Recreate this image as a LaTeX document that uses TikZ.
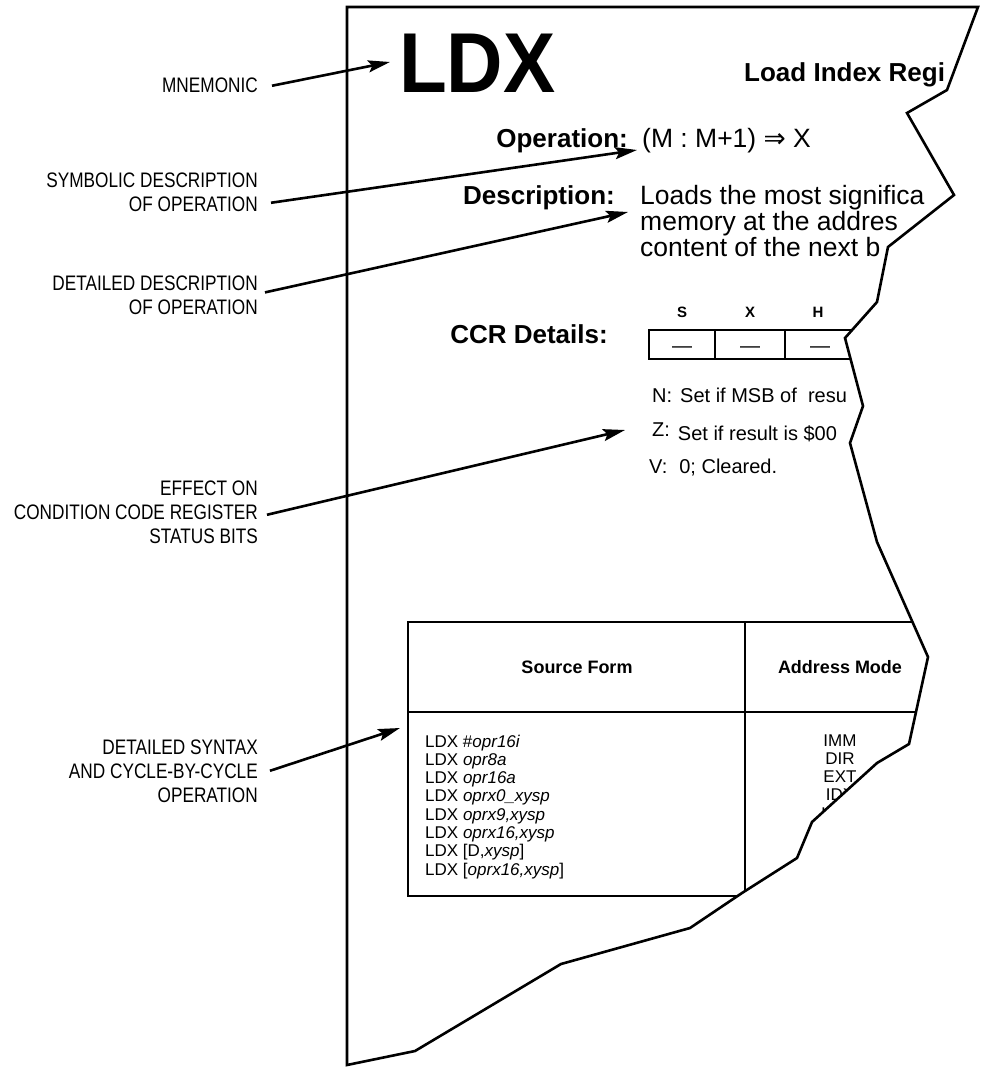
\documentclass[tikz,border=0pt]{standalone}
\usepackage{fontspec}
\setmainfont{Liberation Sans}
\newfontfamily\narrowfont[FakeStretch=0.82]{Liberation Sans}
\newfontfamily\arrowfont{DejaVu Sans}
\usetikzlibrary{arrows.meta}

\newcommand{\tornedge}{(347,7) -- (978,7) -- (947,90) -- (907,113) -- (954,195) -- (888,247) -- (877,302) -- (845,338) -- (863,406) -- (850,443) -- (877,542) -- (928,657) -- (909,744) -- (877,763) -- (812,822) -- (797,858) -- (742,893) -- (690,928) -- (561,964) -- (415,1051) -- (347,1065) -- cycle}

\begin{document}
\begin{tikzpicture}[x=1pt, y=-1pt,
    callout/.style={line width=2.6pt, -{Stealth[length=22pt,width=12pt,inset=4pt]}},
    lbl/.style={anchor=base east, inner sep=0pt, font=\narrowfont\fontsize{21}{24}\selectfont},
    head/.style={inner sep=0pt, font=\bfseries\fontsize{26}{28}\selectfont},
    body/.style={inner sep=0pt, anchor=base west, font=\fontsize{26.5}{26}\selectfont},
    flag/.style={inner sep=0pt, anchor=base west, font=\fontsize{20}{20}\selectfont},
    cell/.style={inner sep=0pt, font=\fontsize{17}{18}\selectfont},
    colhead/.style={inner sep=0pt, anchor=base, font=\bfseries\fontsize{18}{20}\selectfont},
    bit/.style={inner sep=0pt, anchor=base, font=\bfseries\fontsize{15}{16}\selectfont},
    tbl/.style={line width=1.6pt},
  ]
  \useasboundingbox (0,0) rectangle (980,1067);

  % the torn page
  \begin{scope}
    \clip \tornedge;
    \node[inner sep=0pt, anchor=base west, font=\bfseries\fontsize{85}{85}\selectfont] (ldx) at (399,93) {\scalebox{0.92}[1]{LDX}};
    \node[head, anchor=base west] (title) at (744,82) {Load Index Regi};
    \node[head, anchor=base east] (oplbl) at (628,148) {Operation:};
    \node[body] (opval) at (642,148) {(M : M+1) {\arrowfont ⇒} X};
    \node[head, anchor=base east] (desclbl) at (615,205) {Description:};
    \foreach \t [count=\i] in {Loads the most significa, memory at the addres, content of the next b}
      \node[body] (desc\i) at (640,{205+25.5*(\i-1)}) {\t};
    \node[head, anchor=base east] (ccrlbl) at (608,343) {CCR Details:};
    \foreach \b/\cx [count=\i] in {S/682, X/750, H/818}
      \node[bit] (bit\i) at (\cx,317) {\b};
    \draw[line width=2.6pt] (649,330) rectangle (855,359);
    \draw[line width=2.6pt] (715,330) -- (715,359) (785,330) -- (785,359);
    \foreach \cx [count=\i] in {682,750,820}
      \node[inner sep=0pt, anchor=base, font=\fontsize{20}{20}\selectfont] (dash\i) at (\cx,352) {—};
    \node[flag] (flagn) at (652,402) {N:\hspace{8pt}Set if MSB of\ \ resu};
    \node[flag] (flagz) at (652,440) {\raisebox{4pt}{Z:}\hspace{8pt}Set if result is \$00};
    \node[flag] (flagv) at (649,473) {V:\hspace{12pt}0; Cleared.};

    % instruction table
    \draw[tbl] (408,622) rectangle (745,896);
    \draw[tbl] (745,622) -- (970,622) (408,712) -- (970,712) (745,896) -- (970,896);
    \node[colhead] (srchead) at (577,673) {Source Form};
    \node[colhead] (modehead) at (840,673) {Address Mode};
    \foreach \t [count=\i] in {{LDX \#\textit{opr16i}}, {LDX \textit{opr8a}}, {LDX \textit{opr16a}}, {LDX \textit{oprx0\_xysp}}, {LDX \textit{oprx9,xysp}}, {LDX \textit{oprx16,xysp}}, {LDX [D,\textit{xysp}]}, {LDX [\textit{oprx16,xysp}]}}
      \node[cell, anchor=base west] (src\i) at (425,{747+18.3*(\i-1)}) {\t};
    \foreach \t [count=\i] in {IMM, DIR, EXT, IDX, IDX1}
      \node[cell, anchor=base] (mode\i) at (840,{746+18.3*(\i-1)}) {\t};
  \end{scope}
  \draw[line width=2.6pt, line join=miter] \tornedge;

  % callout labels
  \node[lbl] (mnem) at (258,93) {MNEMONIC};
  \foreach \t [count=\i] in {SYMBOLIC DESCRIPTION, OF OPERATION}
    \node[lbl] (sym\i) at (258,{188+24*(\i-1)}) {\t};
  \foreach \t [count=\i] in {DETAILED DESCRIPTION, OF OPERATION}
    \node[lbl] (det\i) at (258,{290+24*(\i-1)}) {\t};
  \foreach \t [count=\i] in {EFFECT ON\hspace{5pt}, CONDITION CODE REGISTER, STATUS BITS}
    \node[lbl] (eff\i) at (258,{495+24*(\i-1)}) {\t};
  \foreach \t [count=\i] in {DETAILED SYNTAX, AND CYCLE-BY-CYCLE, OPERATION}
    \node[lbl] (syn\i) at (258,{754+24*(\i-1)}) {\t};

  \coordinate (mnemtip) at (390,62);
  \coordinate (symtip) at (637,150);
  \coordinate (dettip) at (628,212);
  \coordinate (efftip) at (625,430);
  \coordinate (syntip) at (400,728);

  \draw[callout] ([xshift=14pt]mnem.east) -- (mnemtip);
  \draw[callout] ([xshift=13pt,yshift=2pt]sym2.east) -- (symtip);
  \draw[callout] ([xshift=7pt,yshift=-2pt]det1.south east) -- (dettip);
  \draw[callout] ([xshift=9pt,yshift=-3pt]eff2.east) -- (efftip);
  \draw[callout] ([xshift=12pt]syn2.east) -- (syntip);
\end{tikzpicture}
\end{document}
